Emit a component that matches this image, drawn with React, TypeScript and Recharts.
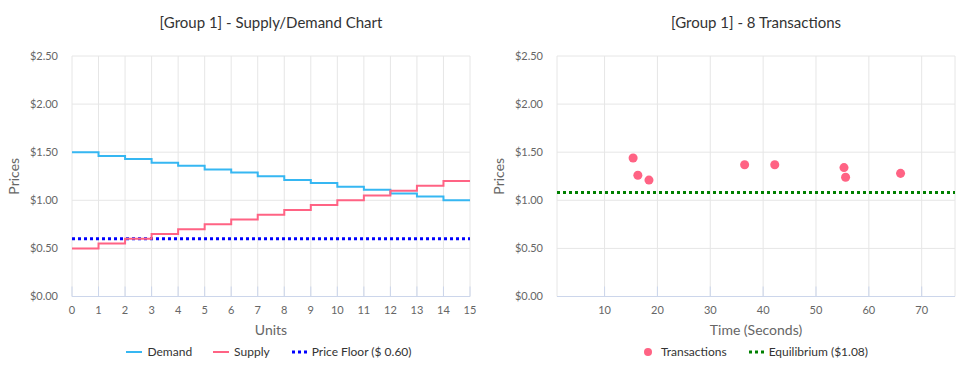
import { CartesianGrid, Line, LineChart, ReferenceLine, Scatter, ScatterChart, XAxis, YAxis, ZAxis } from "recharts";

// supply / demand schedule, one price per unit step
const UNITS = [0, 1, 2, 3, 4, 5, 6, 7, 8, 9, 10, 11, 12, 13, 14, 15];
const DEMAND = [1.5, 1.46, 1.43, 1.39, 1.36, 1.32, 1.29, 1.25, 1.21, 1.18, 1.14, 1.11, 1.07, 1.04, 1.0];
const SUPPLY = [0.5, 0.55, 0.6, 0.65, 0.7, 0.75, 0.8, 0.85, 0.9, 0.95, 1.0, 1.05, 1.1, 1.15, 1.2];
const PRICE_FLOOR = 0.6;
const PRICE_TICKS = [0, 0.5, 1, 1.5, 2, 2.5];

// transactions
const TX_TIME = [15.4, 16.3, 18.4, 36.5, 42.2, 55.3, 55.6, 66.0];
const TX_PRICE = [1.44, 1.26, 1.21, 1.37, 1.37, 1.34, 1.24, 1.28];
const EQUILIBRIUM = 1.08;
const TIME_TICKS = [10, 20, 30, 40, 50, 60, 70];
const TIME_DOMAIN = [1, 76.3];

const BLUE = "#36b7f2";
const PINK = "#ff6384";
const GRID = "#e6e6e6";
const AXIS = "#ccd6eb";

// last step value repeated so the final step reaches the right edge
const stepData = UNITS.map((u, i) => ({
  unit: u,
  demand: DEMAND[Math.min(i, DEMAND.length - 1)],
  supply: SUPPLY[Math.min(i, SUPPLY.length - 1)],
}));

const txData = TX_TIME.map((t, i) => ({ time: t, price: TX_PRICE[i] }));

const money = (v: number) => `$${v.toFixed(2)}`;
const tickStyle = { fontSize: 11, fill: "#666" };
const W = 485;
const H = 367;
const margin = { top: 56, right: 15, bottom: 30.5, left: 0 };

function Title({ text }: { text: string }) {
  return (
    <div
      style={{
        position: "absolute",
        top: 12,
        left: 72,
        width: 398,
        textAlign: "center",
        fontSize: 15,
        lineHeight: "20px",
        color: "#333",
      }}
    >
      {text}
    </div>
  );
}

type Item = { label: string; kind: "line" | "dot" | "dots"; color: string };

function LegendRow({ items }: { items: Item[] }) {
  return (
    <div
      style={{
        position: "absolute",
        top: 344,
        left: 70,
        width: 398,
        display: "flex",
        justifyContent: "center",
        gap: 21,
        fontSize: 12,
        color: "#333",
        lineHeight: "16px",
      }}
    >
      {items.map((it) => (
        <div key={it.label} style={{ display: "flex", alignItems: "center", gap: 5 }}>
          <svg width={16} height={12}>
            {it.kind === "line" && <line x1={0} x2={16} y1={6} y2={6} stroke={it.color} strokeWidth={2} />}
            {it.kind === "dots" && (
              <line x1={1} x2={16} y1={6} y2={6} stroke={it.color} strokeWidth={3} strokeDasharray="3 3" />
            )}
            {it.kind === "dot" && <circle cx={8} cy={6} r={4} fill={it.color} />}
          </svg>
          <span>{it.label}</span>
        </div>
      ))}
    </div>
  );
}

function SupplyDemand() {
  return (
    <div style={{ position: "absolute", left: 0, top: 0, width: W, height: H }}>
      <Title text="[Group 1] - Supply/Demand Chart" />
      <LineChart width={W} height={H} data={stepData} margin={margin}>
        <CartesianGrid stroke={GRID} />
        <XAxis
          dataKey="unit"
          type="number"
          domain={[0, 15]}
          ticks={UNITS}
          interval={0}
          height={40}
          tick={tickStyle}
          stroke={AXIS}
          tickLine={{ stroke: AXIS }}
          tickSize={-10}
          tickMargin={20}
          label={{ value: "Units", position: "insideBottom", offset: 2, fontSize: 14, fill: "#666" }}
        />
        <YAxis
          type="number"
          domain={[0, 2.5]}
          ticks={PRICE_TICKS}
          width={72}
          axisLine={false}
          tickLine={false}
          tickSize={0}
          tickMargin={14}
          tick={tickStyle}
          tickFormatter={money}
          label={{ value: "Prices", angle: -90, position: "insideLeft", offset: 14, fontSize: 14, fill: "#666", style: { textAnchor: "middle" } }}
        />
        <ReferenceLine y={PRICE_FLOOR} stroke="#0000ff" strokeWidth={3} strokeDasharray="3 3" />
        <Line type="stepAfter" dataKey="demand" stroke={BLUE} strokeWidth={2} dot={false} isAnimationActive={false} />
        <Line type="stepAfter" dataKey="supply" stroke={PINK} strokeWidth={2} dot={false} isAnimationActive={false} />
      </LineChart>
      <LegendRow
        items={[
          { label: "Demand", kind: "line", color: BLUE },
          { label: "Supply", kind: "line", color: PINK },
          { label: `Price Floor ($ ${PRICE_FLOOR.toFixed(2)})`, kind: "dots", color: "#0000ff" },
        ]}
      />
    </div>
  );
}

function Transactions() {
  return (
    <div style={{ position: "absolute", left: W, top: 0, width: W, height: H }}>
      <Title text={`[Group 1] - ${TX_TIME.length} Transactions`} />
      <ScatterChart width={W} height={H} margin={margin}>
        <CartesianGrid stroke={GRID} />
        <XAxis
          dataKey="time"
          type="number"
          domain={TIME_DOMAIN}
          ticks={TIME_TICKS}
          interval={0}
          allowDataOverflow
          height={40}
          tick={tickStyle}
          stroke={AXIS}
          tickLine={{ stroke: AXIS }}
          tickSize={-10}
          tickMargin={20}
          label={{ value: "Time (Seconds)", position: "insideBottom", offset: 2, fontSize: 14, fill: "#666" }}
        />
        <YAxis
          dataKey="price"
          type="number"
          domain={[0, 2.5]}
          ticks={PRICE_TICKS}
          width={72}
          axisLine={false}
          tickLine={false}
          tickSize={0}
          tickMargin={14}
          tick={tickStyle}
          tickFormatter={money}
          label={{ value: "Prices", angle: -90, position: "insideLeft", offset: 14, fontSize: 14, fill: "#666", style: { textAnchor: "middle" } }}
        />
        <ZAxis range={[50, 50]} />
        <ReferenceLine y={EQUILIBRIUM} stroke="#008000" strokeWidth={3} strokeDasharray="3 3" />
        <Scatter data={txData} fill={PINK} shape="circle" isAnimationActive={false} />
      </ScatterChart>
      <LegendRow
        items={[
          { label: "Transactions", kind: "dot", color: PINK },
          { label: `Equilibrium ($${EQUILIBRIUM.toFixed(2)})`, kind: "dots", color: "#008000" },
        ]}
      />
    </div>
  );
}

export default function App() {
  return (
    <div
      style={{
        position: "absolute",
        left: 0,
        top: 0,
        width: 970,
        height: 367,
        background: "#fff",
        fontFamily: "Lato, sans-serif",
      }}
    >
      <SupplyDemand />
      <Transactions />
    </div>
  );
}
